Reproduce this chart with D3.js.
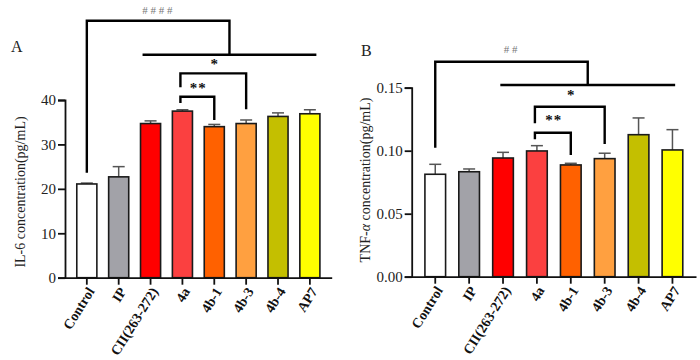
<!DOCTYPE html>
<html>
<head>
<meta charset="utf-8">
<script src="https://cdn.jsdelivr.net/npm/d3@7"></script>
<style>
  body { margin: 0; background: #fff; }
  svg text { font-family: "Liberation Serif", "DejaVu Serif", serif; }
</style>
</head>
<body>
<div id="chart"></div>
<script>
// groups and colours
var groups = ["Control", "IP", "CII(263-272)", "4a", "4b-1", "4b-3", "4b-4", "AP7"];
var barColors = ["#ffffff", "#a2a2a8", "#ff0000", "#fb4040", "#ff6100", "#ffa040", "#c4bf00", "#ffff00"];

// IL-6 (pg/mL)
var il6Mean = [21.1, 22.7, 34.7, 37.5, 34.0, 34.7, 36.3, 36.9];
var il6Err  = [0.2, 2.3, 0.6, 0.3, 0.5, 0.8, 0.8, 0.9];

// TNF-a (pg/mL)
var tnfMean = [0.0813, 0.0833, 0.0942, 0.0998, 0.0887, 0.0937, 0.1127, 0.1006];
var tnfErr  = [0.0079, 0.0022, 0.0045, 0.0042, 0.0013, 0.0043, 0.0133, 0.0161];

// significance marks
var sigA = ["####", "*", "**"];
var sigB = ["##", "*", "**"];

var svg = d3.select("#chart").append("svg")
  .attr("width", 700).attr("height", 360);

function drawPanel(p) {
  var g = svg.append("g");

  var x = d3.scaleBand()
    .domain(groups)
    .range([p.left, p.right])
    .paddingInner(p.pad).paddingOuter(p.pad);

  var y = d3.scaleLinear()
    .domain(p.domain)
    .range([p.bottom, p.top]);

  var rows = groups.map(function(d, i) {
    return {name: d, mean: p.mean[i], err: p.err[i], color: barColors[i]};
  });

  // error bars (drawn first so the bar covers the lower half)
  var eb = g.selectAll(".eb").data(rows).enter().append("g").attr("class", "eb");
  eb.append("line")
    .attr("x1", d => x(d.name) + x.bandwidth() / 2)
    .attr("x2", d => x(d.name) + x.bandwidth() / 2)
    .attr("y1", d => y(d.mean))
    .attr("y2", d => y(d.mean + d.err))
    .attr("stroke", "#555").attr("stroke-width", 1.5);
  eb.append("line")
    .attr("x1", d => x(d.name) + x.bandwidth() / 2 - 6)
    .attr("x2", d => x(d.name) + x.bandwidth() / 2 + 6)
    .attr("y1", d => y(d.mean + d.err))
    .attr("y2", d => y(d.mean + d.err))
    .attr("stroke", "#555").attr("stroke-width", 1.5);

  // bars
  g.selectAll(".bar").data(rows).enter().append("rect")
    .attr("class", "bar")
    .attr("x", d => x(d.name))
    .attr("y", d => y(d.mean))
    .attr("width", x.bandwidth())
    .attr("height", d => y(0) - y(d.mean))
    .attr("fill", d => d.color)
    .attr("stroke", "#1a1a1a")
    .attr("stroke-width", 1.6);

  // axes
  var yAxis = d3.axisLeft(y).tickValues(p.ticks).tickFormat(p.fmt).tickSize(7).tickPadding(2);
  var ya = g.append("g")
    .attr("transform", "translate(" + p.left + ",0)")
    .call(yAxis)
    .attr("font-size", 15);
  ya.select(".domain").attr("stroke", "#111").attr("stroke-width", 1.8);
  ya.selectAll(".tick line").attr("stroke", "#111").attr("stroke-width", 1.8);
  ya.selectAll(".tick text").attr("fill", "#222");

  var xAxis = d3.axisBottom(x).tickSize(7).tickSizeOuter(0).tickFormat("");
  var xa = g.append("g")
    .attr("transform", "translate(0," + p.bottom + ")")
    .call(xAxis);
  xa.select(".domain").attr("stroke", "#111").attr("stroke-width", 1.8);
  xa.selectAll(".tick line").attr("stroke", "#111").attr("stroke-width", 1.8);

  // rotated category labels
  g.selectAll(".xlab").data(groups).enter().append("text")
    .attr("class", "xlab")
    .attr("transform", d => "translate(" + (x(d) + x.bandwidth() / 2 + 4) + "," + (p.bottom + 11) + ") rotate(" + p.angle + ")")
    .attr("text-anchor", "end")
    .attr("dy", "0.35em")
    .attr("font-size", 14)
    .attr("font-weight", "bold")
    .attr("fill", "#111")
    .text(d => d);

  // y label
  var ylab = g.append("text")
    .attr("transform", "translate(" + p.ylabX + "," + p.ylabY + ") rotate(-90)")
    .attr("text-anchor", "middle")
    .attr("font-size", 14).attr("fill", "#222");
  ylab.append("tspan").text(p.ylab[0]);
  if (p.ylab.length > 1) {
    ylab.append("tspan").attr("font-style", "italic").text(p.ylab[1]);
    ylab.append("tspan").text(p.ylab[2]);
  }

  // panel letter
  g.append("text")
    .attr("x", p.letterX).attr("y", p.letterY)
    .attr("font-size", 16).attr("fill", "#222")
    .text(p.letter);

  // significance brackets
  var cx = function(name) { return x(name) + x.bandwidth() / 2; };
  var b = p.br;
  var mid = (cx("CII(263-272)") + b.longL + cx("AP7") + b.longR) / 2;
  var lines = [
    // big bracket: Control vs treated groups
    [[cx("Control"), y(b.bigLeg)], [cx("Control"), y(b.bigTop)], [mid, y(b.bigTop)], [mid, y(b.longY)]],
    [[cx("CII(263-272)") + b.longL, y(b.longY)], [cx("AP7") + b.longR, y(b.longY)]],
    // 4a vs 4b-3
    [[cx("4a") + b.off, y(b.s1L)], [cx("4a") + b.off, y(b.s1Top)], [cx("4b-3"), y(b.s1Top)], [cx("4b-3"), y(b.s1R)]],
    // 4a vs 4b-1
    [[cx("4a") + b.off, y(b.s2L)], [cx("4a") + b.off, y(b.s2Top)], [cx("4b-1"), y(b.s2Top)], [cx("4b-1"), y(b.s2R)]]
  ];
  g.selectAll(".br").data(lines).enter().append("path")
    .attr("d", d3.line())
    .attr("fill", "none")
    .attr("stroke", "#000")
    .attr("stroke-width", 2.4);

  g.append("text")
    .attr("x", mid - p.hashShift).attr("y", y(b.hashY))
    .attr("text-anchor", "middle")
    .attr("font-size", 11).attr("fill", "#777")
    .text(p.sig[0].split("").join(" "));
  g.append("text")
    .attr("x", (cx("4a") + cx("4b-3")) / 2).attr("y", y(b.s1Text))
    .attr("text-anchor", "middle")
    .attr("font-size", 15).attr("font-weight", "bold").attr("fill", "#111")
    .text(p.sig[1]);
  g.append("text")
    .attr("x", (cx("4a") + cx("4b-1")) / 2).attr("y", y(b.s2Text))
    .attr("text-anchor", "middle")
    .attr("font-size", 15).attr("font-weight", "bold").attr("fill", "#111")
    .attr("letter-spacing", 1)
    .text(p.sig[2]);
}

drawPanel({
  left: 65, right: 331.7, top: 100, bottom: 277.7, pad: 0.37, angle: -58,
  domain: [0, 40], ticks: [0, 10, 20, 30, 40], fmt: d3.format("d"),
  mean: il6Mean, err: il6Err, sig: sigA,
  ylab: ["IL-6 concentration(pg/mL)"], ylabX: 25, ylabY: 192,
  letter: "A", letterX: 11, letterY: 52, hashShift: 72,
  br: {
    bigLeg: 23.6, bigTop: 57.85, longY: 50.2, longL: -8, longR: 6.5,
    off: -2,
    s1Top: 46.0, s1L: 42.86, s1R: 37.9,
    s2Top: 40.74, s2L: 39.33, s2R: 35.5,
    hashY: 59.3, s1Text: 46.9, s2Text: 41.6
  }
});

drawPanel({
  left: 411.7, right: 696, top: 87.7, bottom: 276.7, pad: 0.39, angle: -58,
  domain: [0, 0.15], ticks: [0, 0.05, 0.10, 0.15], fmt: d3.format(".2f"),
  mean: tnfMean, err: tnfErr, sig: sigB,
  ylab: ["TNF-", "\u03b1", " concentration(pg/mL)"], ylabX: 370, ylabY: 180,
  letter: "B", letterX: 361, letterY: 56, hashShift: 77,
  br: {
    bigLeg: 0.1024, bigTop: 0.1706, longY: 0.1521, longL: -2.7, longR: 2.7,
    off: -2,
    s1Top: 0.1349, s1L: 0.1217, s1R: 0.1053,
    s2Top: 0.1143, s2L: 0.1090, s2R: 0.0966,
    hashY: 0.1775, s1Text: 0.1405, s2Text: 0.1205
  }
});
</script>
</body>
</html>
